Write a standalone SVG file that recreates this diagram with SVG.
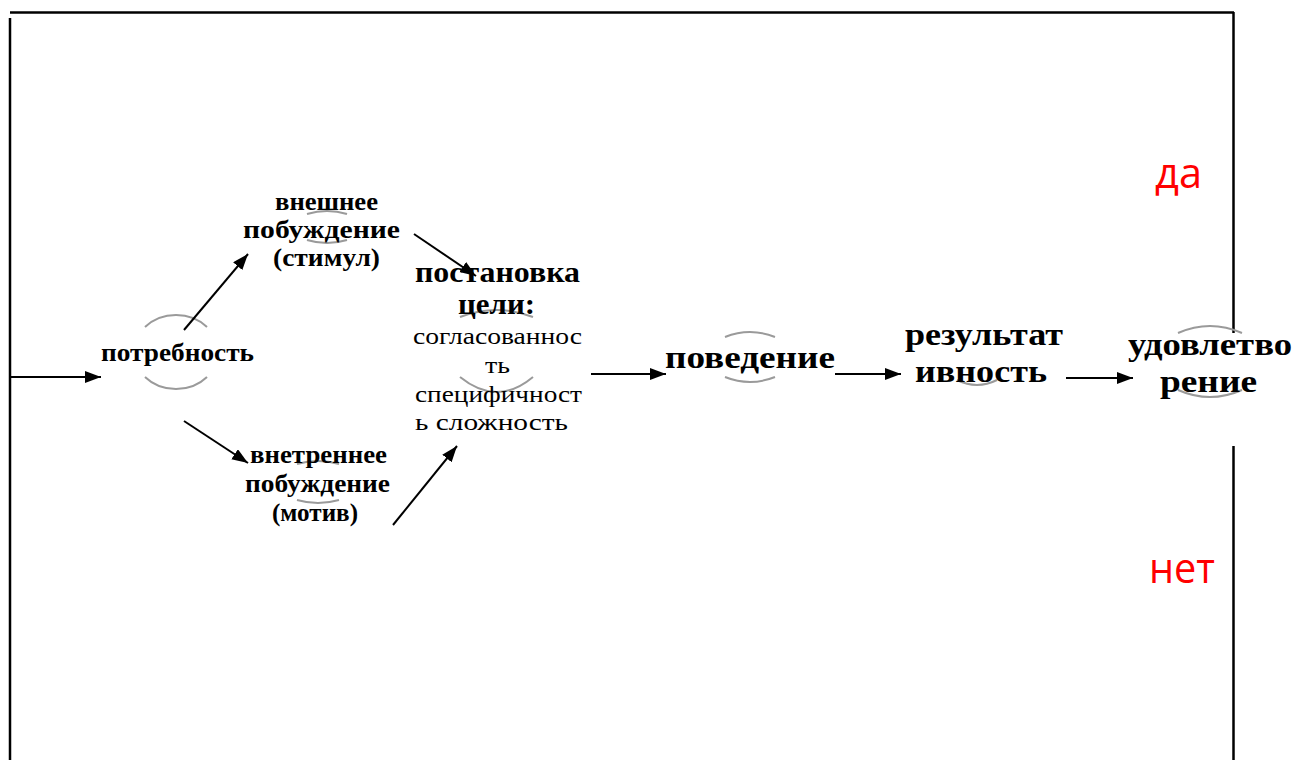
<svg xmlns="http://www.w3.org/2000/svg" width="1296" height="760" viewBox="0 0 1296 760">
<style>
.b{font-family:"Liberation Serif","Times New Roman",serif;font-weight:bold;font-size:26px;fill:#000}
.bb{font-family:"Liberation Serif","Times New Roman",serif;font-weight:bold;font-size:32px;fill:#000}
.bm{font-family:"Liberation Serif","Times New Roman",serif;font-weight:bold;font-size:30px;fill:#000}
.r{font-family:"Liberation Serif","Times New Roman",serif;font-size:24px;fill:#000}
.red{font-family:"Open Sans","Liberation Sans",sans-serif;font-size:42px;fill:#ff0000}
.arc{fill:none;stroke:#9a9a9a;stroke-width:2}
.frame{fill:none;stroke:#000;stroke-width:2.5}
.con{fill:none;stroke:#000;stroke-width:2;marker-end:url(#ah)}
</style>
<defs>
<marker id="ah" markerUnits="userSpaceOnUse" markerWidth="17" markerHeight="13" refX="16" refY="6" orient="auto">
<path d="M0,0 L16,6 L0,12 z" fill="#000"/>
</marker>
</defs>
<rect width="1296" height="760" fill="#fff"/>
<g id="frame">
<path class="frame" d="M10,12.5 H1234"/>
<path class="frame" d="M10,18 V760"/>
<path class="frame" d="M1233.5,12 V333"/>
<path class="frame" d="M1233.5,446 V760"/>
</g>
<g id="n-potrebnost">
<path class="arc" d="M145,327 A42,37 0 0 1 207,327"/>
<path class="arc" d="M145,377 A42,37 0 0 0 207,377"/>
<text class="b" x="101" y="361" textLength="153" lengthAdjust="spacingAndGlyphs">потребность</text>
</g>
<g id="n-vneshnee">
<path class="arc" d="M307,214 Q327,208 347,214"/>
<path class="arc" d="M307,240 Q327,246 347,240"/>
<text class="b" x="275" y="210" textLength="103" lengthAdjust="spacingAndGlyphs">внешнее</text>
<text class="b" x="243" y="238" textLength="157" lengthAdjust="spacingAndGlyphs">побуждение</text>
<text class="b" x="273" y="266" textLength="107" lengthAdjust="spacingAndGlyphs">(стимул)</text>
</g>
<g id="n-vnetrennee">
<path class="arc" d="M297,464 Q318,458 339,464"/>
<path class="arc" d="M297,500 Q318,506 339,500"/>
<text class="b" x="250" y="463" textLength="137" lengthAdjust="spacingAndGlyphs">внетреннее</text>
<text class="b" x="245" y="492" textLength="145" lengthAdjust="spacingAndGlyphs">побуждение</text>
<text class="b" x="272" y="521" textLength="86" lengthAdjust="spacingAndGlyphs">(мотив)</text>
</g>
<g id="n-postanovka">
<path class="arc" d="M460,317 Q497,303 533,317"/>
<path class="arc" d="M460,377 Q497,407 533,377"/>
<text class="bm" x="415" y="282" textLength="165" lengthAdjust="spacingAndGlyphs">постановка</text>
<text class="bm" x="458" y="314" textLength="77" lengthAdjust="spacingAndGlyphs">цели:</text>
<text class="r" x="413" y="344" textLength="169" lengthAdjust="spacingAndGlyphs">согласованнос</text>
<text class="r" x="485" y="373" textLength="25" lengthAdjust="spacingAndGlyphs">ть</text>
<text class="r" x="415" y="402" textLength="167" lengthAdjust="spacingAndGlyphs">специфичност</text>
<text class="r" x="415" y="430" textLength="153" lengthAdjust="spacingAndGlyphs">ь сложность</text>
</g>
<g id="n-povedenie">
<path class="arc" d="M725,337 Q750,327 775,337"/>
<path class="arc" d="M725,377 Q750,387 775,377"/>
<text class="bb" x="665" y="368" textLength="170" lengthAdjust="spacingAndGlyphs">поведение</text>
</g>
<g id="n-rezultat">
<path class="arc" d="M957,380 Q977,390 997,380"/>
<text class="bb" x="905" y="345" textLength="158" lengthAdjust="spacingAndGlyphs">результат</text>
<text class="bb" x="915" y="382" textLength="132" lengthAdjust="spacingAndGlyphs">ивность</text>
</g>
<g id="n-udovl">
<path class="arc" d="M1178,333 Q1210,319 1242,333"/>
<path class="arc" d="M1178,390 Q1210,404 1242,390"/>
<text class="bb" x="1128" y="355" textLength="164" lengthAdjust="spacingAndGlyphs">удовлетво</text>
<text class="bb" x="1160" y="392" textLength="97" lengthAdjust="spacingAndGlyphs">рение</text>
</g>
<g id="n-da">
<text class="red" x="1155" y="188" textLength="47" lengthAdjust="spacingAndGlyphs">да</text>
</g>
<g id="n-net">
<text class="red" x="1149" y="583" textLength="66" lengthAdjust="spacingAndGlyphs">нет</text>
</g>
<g id="connectors">
<line class="con" x1="10" y1="377" x2="101" y2="377"/>
<line class="con" x1="184" y1="330" x2="248" y2="254"/>
<line class="con" x1="184" y1="421" x2="248" y2="463"/>
<line class="con" x1="414" y1="234" x2="476" y2="276"/>
<line class="con" x1="393" y1="525" x2="457" y2="446"/>
<line class="con" x1="591" y1="374" x2="666" y2="374"/>
<line class="con" x1="835" y1="374" x2="901" y2="374"/>
<line class="con" x1="1066" y1="378" x2="1133" y2="378"/>
</g>
</svg>
